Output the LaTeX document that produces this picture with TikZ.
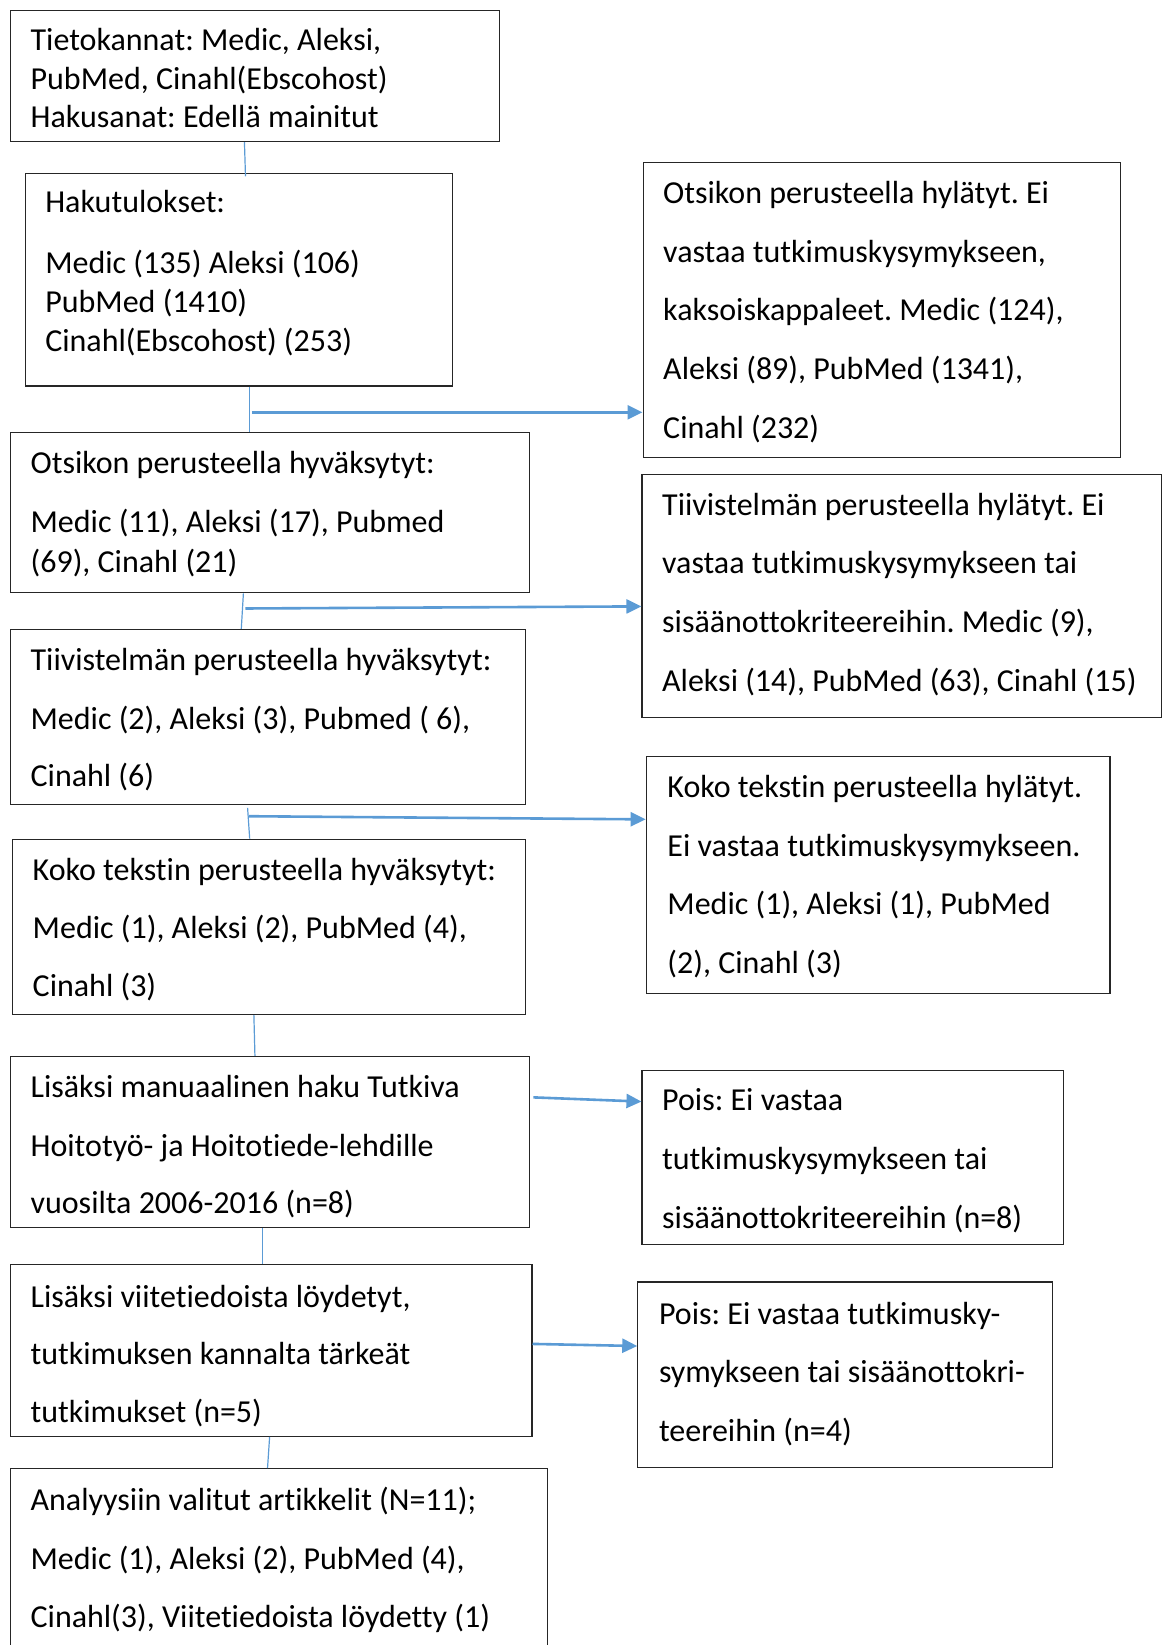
\documentclass[tikz,border=0pt]{standalone}
\usepackage{fontspec}
\setmainfont{Carlito}[Ligatures=NoCommon]
\frenchspacing
\usetikzlibrary{arrows.meta,fit,calc}
\definecolor{lineblue}{RGB}{91,155,213}
\tikzset{
  box/.style={draw=black!85, line width=1.2pt, inner sep=0pt},
  txt/.style={anchor=base west, inner sep=0pt, yshift=-1pt, font=\fontsize{32}{38}\selectfont},
  conn/.style={draw=lineblue, line width=1.2pt},
  arr/.style={draw=lineblue, line width=2.6pt, -{Triangle[length=15pt,width=14pt]}}
}
\begin{document}
\begin{tikzpicture}[x=1.0493pt,y=-1.0493pt]
\useasboundingbox (0,0) rectangle (1116,1568);
\clip (0,0) rectangle (1116,1568);
% left boxes
\node[box, fit={(10,10) (476,135)}] (b1) {};
\node[box, fit={(24,165) (431,368)}] (b2) {};
\node[box, fit={(10,412) (505,565)}] (b3) {};
\node[box, fit={(10,600) (501,767)}] (b4) {};
\node[box, fit={(12,800) (501,967)}] (b5) {};
\node[box, fit={(10,1007) (505,1170)}] (b6) {};
\node[box, fit={(10,1205) (507,1369)}] (b7) {};
\node[box, fit={(10,1400) (522,1620)}] (b8) {};
% right boxes
\node[box, fit={(613,155) (1068,436)}] (r1) {};
\node[box, fit={(612,452) (1107,684)}] (r2) {};
\node[box, fit={(616,721) (1058,947)}] (r3) {};
\node[box, fit={(612,1020) (1014,1186)}] (r4) {};
\node[box, fit={(608,1222) (1003,1399)}] (r5) {};
% texts
\node[txt] (b1a) at (29,47) {Tietokannat: Medic, Aleksi,};
\node[txt] (b1b) at (29,84) {PubMed, Cinahl(Ebscohost)};
\node[txt] (b1c) at (29,121) {Hakusanat: Edellä mainitut};
\node[txt] (b2a) at (43,202) {Hakutulokset:};
\node[txt] (b2b) at (43,260) {Medic (135) Aleksi (106)};
\node[txt] (b2c) at (43,297) {PubMed (1410)};
\node[txt] (b2d) at (43,334) {Cinahl(Ebscohost) (253)};
\node[txt] (b3a) at (29,450) {Otsikon perusteella hyväksytyt:};
\node[txt] (b3b) at (29,507) {Medic (11), Aleksi (17), Pubmed};
\node[txt] (b3c) at (29,545) {(69), Cinahl (21)};
\node[txt] (b4a) at (29,638) {Tiivistelmän perusteella hyväksytyt:};
\node[txt] (b4b) at (29,694) {Medic (2), Aleksi (3), Pubmed ( 6),};
\node[txt] (b4c) at (29,749) {Cinahl (6)};
\node[txt] (b5a) at (31,838) {Koko tekstin perusteella hyväksytyt:};
\node[txt] (b5b) at (31,894) {Medic (1), Aleksi (2), PubMed (4),};
\node[txt] (b5c) at (31,949) {Cinahl (3)};
\node[txt] (b6a) at (29,1045) {Lisäksi manuaalinen haku Tutkiva};
\node[txt] (b6b) at (29,1101) {Hoitotyö- ja Hoitotiede-lehdille};
\node[txt] (b6c) at (29,1156) {vuosilta 2006-2016 (n=8)};
\node[txt] (b7a) at (29,1245) {Lisäksi viitetiedoista löydetyt,};
\node[txt] (b7b) at (29,1300) {tutkimuksen kannalta tärkeät};
\node[txt] (b7c) at (29,1355) {tutkimukset (n=5)};
\node[txt] (b8a) at (29,1439) {Analyysiin valitut artikkelit (N=11);};
\node[txt] (b8b) at (29,1495) {Medic (1), Aleksi (2), PubMed (4),};
\node[txt] (b8c) at (29,1550) {Cinahl(3), Viitetiedoista löydetty (1)};
\node[txt] (r1a) at (632,193) {Otsikon perusteella hylätyt. Ei};
\node[txt] (r1b) at (632,249) {vastaa tutkimuskysymykseen,};
\node[txt] (r1c) at (632,305) {kaksoiskappaleet. Medic (124),};
\node[txt] (r1d) at (632,361) {Aleksi (89), PubMed (1341),};
\node[txt] (r1e) at (632,417) {Cinahl (232)};
\node[txt] (r2a) at (631,490) {Tiivistelmän perusteella hylätyt. Ei};
\node[txt] (r2b) at (631,546) {vastaa tutkimuskysymykseen tai};
\node[txt] (r2c) at (631,602) {sisäänottokriteereihin. Medic (9),};
\node[txt] (r2d) at (631,658) {Aleksi (14), PubMed (63), Cinahl (15)};
\node[txt] (r3a) at (636,759) {Koko tekstin perusteella hylätyt.};
\node[txt] (r3b) at (636,815) {Ei vastaa tutkimuskysymykseen.};
\node[txt] (r3c) at (636,871) {Medic (1), Aleksi (1), PubMed};
\node[txt] (r3d) at (636,927) {(2), Cinahl (3)};
\node[txt] (r4a) at (631,1058) {Pois: Ei vastaa};
\node[txt] (r4b) at (631,1114) {tutkimuskysymykseen tai};
\node[txt] (r4c) at (631,1170) {sisäänottokriteereihin (n=8)};
\node[txt] (r5a) at (628,1262) {Pois: Ei vastaa tutkimusky-};
\node[txt] (r5b) at (628,1317) {symykseen tai sisäänottokri-};
\node[txt] (r5c) at (628,1373) {teereihin (n=4)};
% vertical connectors
\coordinate (v1a) at (233,0); \coordinate (v1b) at (234,168);
\coordinate (v2) at (238,0);
\coordinate (v3a) at (232,0); \coordinate (v3b) at (230,0);
\coordinate (v4a) at (236,770); \coordinate (v4b) at (238,0);
\coordinate (v5a) at (242,0); \coordinate (v5b) at (243,0);
\coordinate (v6) at (250,0);
\coordinate (v7a) at (257,0); \coordinate (v7b) at (255,0);
\draw[conn] (b1.south -| v1a) -- (v1b);
\draw[conn] (b2.south -| v2) -- (b3.north -| v2);
\draw[conn] (b3.south -| v3a) -- (b4.north -| v3b);
\draw[conn] (v4a) -- (b5.north -| v4b);
\draw[conn] (b5.south -| v5a) -- (b6.north -| v5b);
\draw[conn] (b6.south -| v6) -- (b7.north -| v6);
\draw[conn] (b7.south -| v7a) -- (b8.north -| v7b);
% arrows
\coordinate (a1s) at (240,393); \coordinate (a1e) at (0,393);
\coordinate (a2s) at (234,580); \coordinate (a2e) at (0,578);
\coordinate (a3s) at (237,778); \coordinate (a3e) at (0,781);
\coordinate (a4s) at (0,1046);  \coordinate (a4e) at (0,1050);
\coordinate (a5s) at (0,1281);  \coordinate (a5e) at (0,1283);
\draw[arr] (a1s) -- (a1e -| r1.west);
\draw[arr] (a2s) -- (a2e -| r2.west);
\draw[arr] (a3s) -- (a3e -| r3.west);
\draw[arr] ([xshift=3pt]a4s -| b6.east) -- (a4e -| r4.west);
\draw[arr] (a5s -| b7.east) -- (a5e -| r5.west);
\end{tikzpicture}
\end{document}
